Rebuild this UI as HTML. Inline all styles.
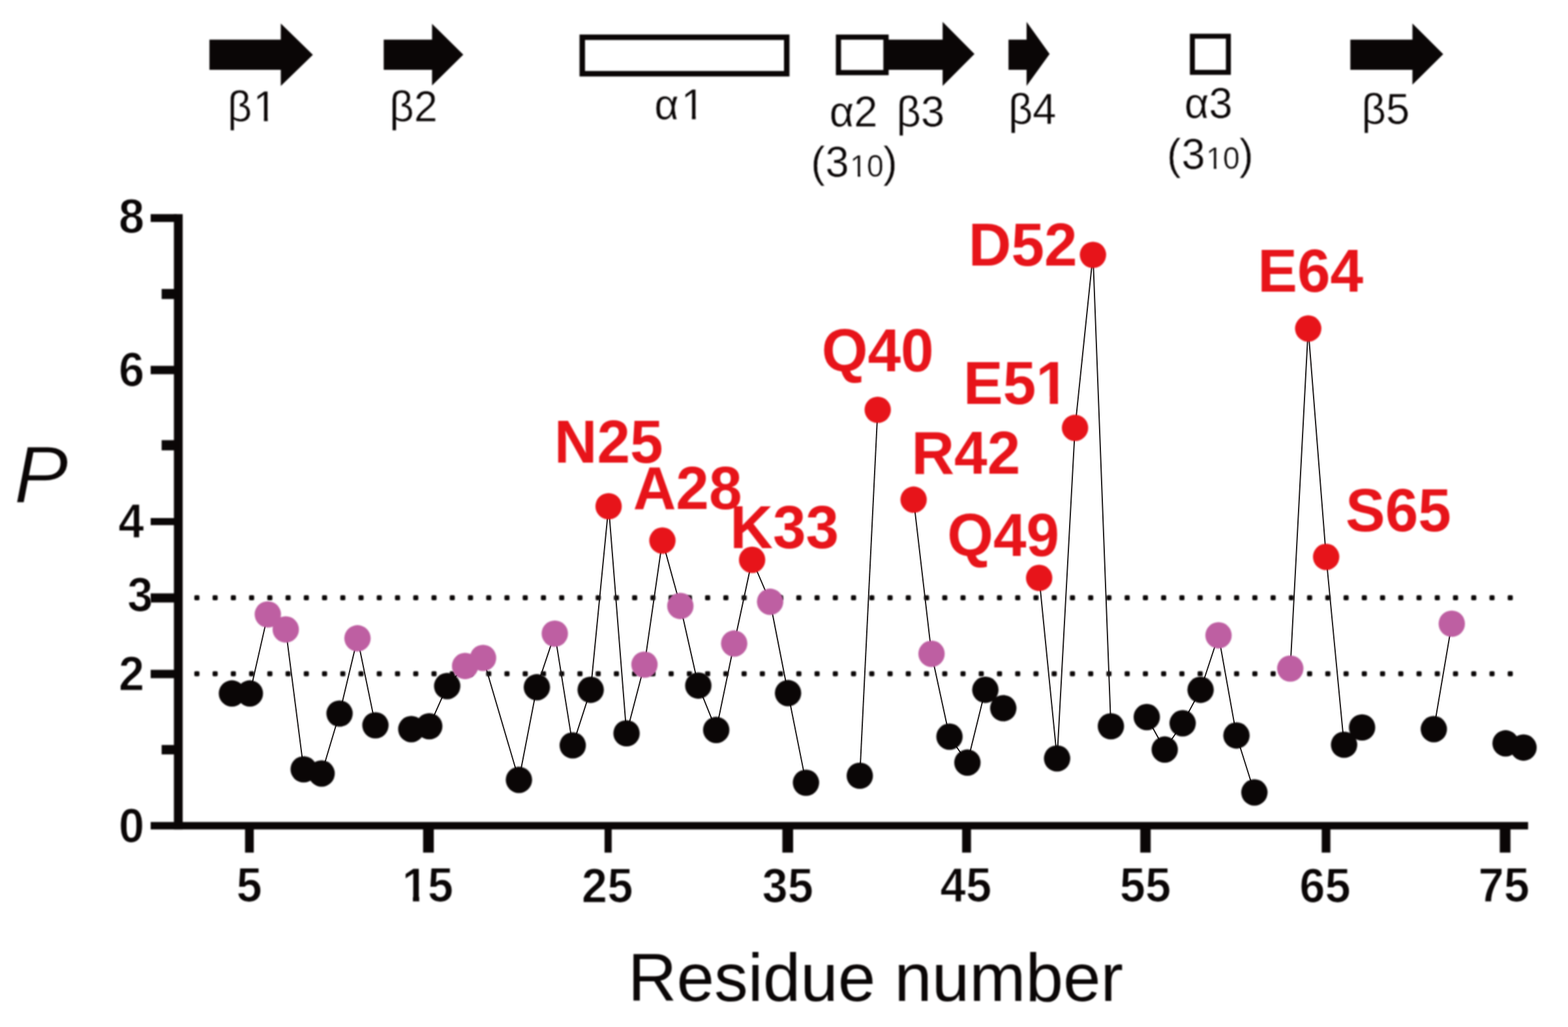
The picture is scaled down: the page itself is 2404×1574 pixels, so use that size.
<!DOCTYPE html>
<html lang="en"><head><meta charset="utf-8"><title>Residue plot</title>
<style>
html,body{margin:0;padding:0;background:#fff;}
body{width:2404px;height:1574px;overflow:hidden;}
svg{display:block;}
.soft{filter:blur(0.80px);}
text{font-family:"Liberation Sans",Arial,Helvetica,sans-serif;font-kerning:none;}
.tk{font-weight:bold;font-size:73.6px;fill:#0a0606;stroke:#fff;stroke-width:1.1px;stroke-linejoin:round;}
.ss{font-size:67.5px;fill:#0a0606;stroke:#fff;stroke-width:0.5px;}
.sm{font-size:48px;}
.rl{font-weight:bold;font-size:93.6px;fill:#e7141a;}
.ax{font-size:103.5px;fill:#0a0606;}
.yl{font-size:124.6px;font-style:italic;fill:#0a0606;stroke:#fff;stroke-width:1.4px;}
</style></head><body>
<svg width="2404" height="1574" viewBox="0 0 2404 1574" role="img" aria-label="P versus residue number">
<rect width="2404" height="1574" fill="#fff"/>
<defs>
<clipPath id="c_s_b1" clipPathUnits="userSpaceOnUse"><path clip-rule="evenodd" d="M-400 -400H1400V400H-400ZM44.27 -6.54H58.10V3.00H44.27ZM64.07 -6.54H77.37V3.00H64.07Z"/></clipPath>
<clipPath id="c_s_a1" clipPathUnits="userSpaceOnUse"><path clip-rule="evenodd" d="M-400 -400H1400V400H-400ZM45.97 -6.54H59.80V3.00H45.97ZM65.76 -6.54H79.07V3.00H65.76Z"/></clipPath>
<clipPath id="c_s_h2" clipPathUnits="userSpaceOnUse"><path clip-rule="evenodd" d="M-400 -400H1400V400H-400ZM64.17 -5.09H74.59V3.00H64.17ZM78.83 -5.09H88.87V3.00H78.83Z"/></clipPath>
<clipPath id="c_s_h3" clipPathUnits="userSpaceOnUse"><path clip-rule="evenodd" d="M-400 -400H1400V400H-400ZM64.17 -5.09H74.59V3.00H64.17ZM78.83 -5.09H88.87V3.00H78.83Z"/></clipPath>
<clipPath id="c_x15" clipPathUnits="userSpaceOnUse"><path clip-rule="evenodd" d="M-400 -400H1400V400H-400ZM2.64 -9.01H17.18V3.00H2.64ZM27.28 -9.01H40.88V3.00H27.28Z"/></clipPath>
<clipPath id="c_r_E51" clipPathUnits="userSpaceOnUse"><path clip-rule="evenodd" d="M-400 -400H1400V400H-400ZM118.38 -11.05H136.33V3.00H118.38ZM149.18 -11.05H165.94V3.00H149.18Z"/></clipPath>
</defs>
<g id="layer-under" class="soft">
<g id="ticklabels">
<text id="y8" class="tk" transform="translate(181.88 357.40) scale(0.960 1)">8</text>
<text id="y6" class="tk" transform="translate(181.88 591.90) scale(0.960 1)">6</text>
<text id="y4" class="tk" transform="translate(181.50 823.60) scale(0.960 1)">4</text>
<text id="y2" class="tk" transform="translate(182.00 1058.30) scale(0.960 1)">2</text>
<text id="y0" class="tk" transform="translate(182.00 1291.20) scale(0.960 1)">0</text>
<text id="y3" class="tk" transform="translate(195.22 936.65) scale(0.960 1)">3</text>
<text id="x5" class="tk" transform="translate(362.59 1382.46) scale(0.960 1)">5</text>
<text id="x15" class="tk" transform="translate(616.56 1382.46) scale(0.960 1)" clip-path="url(#c_x15)">15</text>
<text id="x25" class="tk" transform="translate(891.84 1382.95) scale(0.960 1)">25</text>
<text id="x35" class="tk" transform="translate(1168.38 1382.83) scale(0.960 1)">35</text>
<text id="x45" class="tk" transform="translate(1441.60 1382.46) scale(0.960 1)">45</text>
<text id="x55" class="tk" transform="translate(1716.81 1382.46) scale(0.960 1)">55</text>
<text id="x65" class="tk" transform="translate(1992.20 1382.95) scale(0.960 1)">65</text>
<text id="x75" class="tk" transform="translate(2266.58 1382.46) scale(0.960 1)">75</text>
</g>
<g id="sse" fill="#0a0606">
<path d="M321.1 60.8H430.5V36.0L479.7 84.0L430.5 131.8V107.1H321.1Z"/>
<path d="M588.3 60.8H662.4V36.5L710.3 83.8L662.4 131.1V107.1H588.3Z"/>
</g>
<g id="helices" fill="#fff" stroke="#0a0606">
<rect x="892.7" y="57.1" width="313.5" height="55.9" stroke-width="8.4"/>
<rect x="1285.5" y="56.9" width="73.0" height="54.4" stroke-width="7.9"/>
<rect x="1828.1" y="55.5" width="55.2" height="55.4" stroke-width="7.6"/>
</g>
<g id="sse2" fill="#0a0606">
<path d="M1354.6 60.8H1445.2V33.5L1494.0 82.7L1445.2 131.8V107.1H1354.6Z"/>
<path d="M1546.2 60.8H1573.9V33.5L1609.2 82.7L1573.9 131.8V107.1H1546.2Z"/>
<path d="M2070.3 60.8H2165.5V36.0L2212.7 82.9L2165.5 129.8V107.1H2070.3Z"/>
</g>
<g id="sse-labels">
<text id="s_b1" class="ss" transform="translate(348.75 186.00) scale(0.963 1)" clip-path="url(#c_s_b1)">β<tspan dx="2.3">1</tspan></text>
<text id="s_b2" class="ss" transform="translate(597.34 186.00) scale(0.963 1)">β2</text>
<text id="s_a1" class="ss" transform="translate(1003.25 183.30) scale(0.963 1)" clip-path="url(#c_s_a1)">α<tspan dx="3.8">1</tspan></text>
<text id="s_a2" class="ss" transform="translate(1271.66 193.60) scale(0.963 1)">α2</text>
<text id="s_b3" class="ss" transform="translate(1374.59 193.50) scale(0.963 1)">β3</text>
<text id="s_b4" class="ss" transform="translate(1545.94 189.60) scale(0.963 1)">β4</text>
<text id="s_a3" class="ss" transform="translate(1815.95 181.10) scale(0.963 1)">α3</text>
<text id="s_b5" class="ss" transform="translate(2087.54 189.90) scale(0.963 1)">β5</text>
<text id="s_h2" class="ss" transform="translate(1243.14 270.70) scale(0.963 1)" clip-path="url(#c_s_h2)">(<tspan dx="0.7">3</tspan><tspan class="sm" dx="1.8">10</tspan><tspan dx="-0.7">)</tspan></text>
<text id="s_h3" class="ss" transform="translate(1789.10 258.90) scale(0.963 1)" clip-path="url(#c_s_h3)">(<tspan dx="0.7">3</tspan><tspan class="sm" dx="1.8">10</tspan><tspan dx="-0.7">)</tspan></text>
</g>
<g id="thresholds" fill="#0a0606">
<rect x="297.95" y="912.20" width="7.8" height="7.8" rx="1.8"/>
<rect x="325.92" y="912.20" width="7.8" height="7.8" rx="1.8"/>
<rect x="353.88" y="912.20" width="7.8" height="7.8" rx="1.8"/>
<rect x="381.85" y="912.20" width="7.8" height="7.8" rx="1.8"/>
<rect x="409.82" y="912.20" width="7.8" height="7.8" rx="1.8"/>
<rect x="437.79" y="912.20" width="7.8" height="7.8" rx="1.8"/>
<rect x="465.75" y="912.20" width="7.8" height="7.8" rx="1.8"/>
<rect x="493.72" y="912.20" width="7.8" height="7.8" rx="1.8"/>
<rect x="521.69" y="912.20" width="7.8" height="7.8" rx="1.8"/>
<rect x="549.65" y="912.20" width="7.8" height="7.8" rx="1.8"/>
<rect x="577.62" y="912.20" width="7.8" height="7.8" rx="1.8"/>
<rect x="605.59" y="912.20" width="7.8" height="7.8" rx="1.8"/>
<rect x="633.55" y="912.20" width="7.8" height="7.8" rx="1.8"/>
<rect x="661.52" y="912.20" width="7.8" height="7.8" rx="1.8"/>
<rect x="689.49" y="912.20" width="7.8" height="7.8" rx="1.8"/>
<rect x="717.46" y="912.20" width="7.8" height="7.8" rx="1.8"/>
<rect x="745.42" y="912.20" width="7.8" height="7.8" rx="1.8"/>
<rect x="773.39" y="912.20" width="7.8" height="7.8" rx="1.8"/>
<rect x="801.36" y="912.20" width="7.8" height="7.8" rx="1.8"/>
<rect x="829.32" y="912.20" width="7.8" height="7.8" rx="1.8"/>
<rect x="857.29" y="912.20" width="7.8" height="7.8" rx="1.8"/>
<rect x="885.26" y="912.20" width="7.8" height="7.8" rx="1.8"/>
<rect x="913.22" y="912.20" width="7.8" height="7.8" rx="1.8"/>
<rect x="941.19" y="912.20" width="7.8" height="7.8" rx="1.8"/>
<rect x="969.16" y="912.20" width="7.8" height="7.8" rx="1.8"/>
<rect x="997.12" y="912.20" width="7.8" height="7.8" rx="1.8"/>
<rect x="1025.09" y="912.20" width="7.8" height="7.8" rx="1.8"/>
<rect x="1053.06" y="912.20" width="7.8" height="7.8" rx="1.8"/>
<rect x="1081.03" y="912.20" width="7.8" height="7.8" rx="1.8"/>
<rect x="1108.99" y="912.20" width="7.8" height="7.8" rx="1.8"/>
<rect x="1136.96" y="912.20" width="7.8" height="7.8" rx="1.8"/>
<rect x="1164.93" y="912.20" width="7.8" height="7.8" rx="1.8"/>
<rect x="1192.89" y="912.20" width="7.8" height="7.8" rx="1.8"/>
<rect x="1220.86" y="912.20" width="7.8" height="7.8" rx="1.8"/>
<rect x="1248.83" y="912.20" width="7.8" height="7.8" rx="1.8"/>
<rect x="1276.79" y="912.20" width="7.8" height="7.8" rx="1.8"/>
<rect x="1304.76" y="912.20" width="7.8" height="7.8" rx="1.8"/>
<rect x="1332.73" y="912.20" width="7.8" height="7.8" rx="1.8"/>
<rect x="1360.70" y="912.20" width="7.8" height="7.8" rx="1.8"/>
<rect x="1388.66" y="912.20" width="7.8" height="7.8" rx="1.8"/>
<rect x="1416.63" y="912.20" width="7.8" height="7.8" rx="1.8"/>
<rect x="1444.60" y="912.20" width="7.8" height="7.8" rx="1.8"/>
<rect x="1472.56" y="912.20" width="7.8" height="7.8" rx="1.8"/>
<rect x="1500.53" y="912.20" width="7.8" height="7.8" rx="1.8"/>
<rect x="1528.50" y="912.20" width="7.8" height="7.8" rx="1.8"/>
<rect x="1556.46" y="912.20" width="7.8" height="7.8" rx="1.8"/>
<rect x="1584.43" y="912.20" width="7.8" height="7.8" rx="1.8"/>
<rect x="1612.40" y="912.20" width="7.8" height="7.8" rx="1.8"/>
<rect x="1640.37" y="912.20" width="7.8" height="7.8" rx="1.8"/>
<rect x="1668.33" y="912.20" width="7.8" height="7.8" rx="1.8"/>
<rect x="1696.30" y="912.20" width="7.8" height="7.8" rx="1.8"/>
<rect x="1724.27" y="912.20" width="7.8" height="7.8" rx="1.8"/>
<rect x="1752.23" y="912.20" width="7.8" height="7.8" rx="1.8"/>
<rect x="1780.20" y="912.20" width="7.8" height="7.8" rx="1.8"/>
<rect x="1808.17" y="912.20" width="7.8" height="7.8" rx="1.8"/>
<rect x="1836.13" y="912.20" width="7.8" height="7.8" rx="1.8"/>
<rect x="1864.10" y="912.20" width="7.8" height="7.8" rx="1.8"/>
<rect x="1892.07" y="912.20" width="7.8" height="7.8" rx="1.8"/>
<rect x="1920.04" y="912.20" width="7.8" height="7.8" rx="1.8"/>
<rect x="1948.00" y="912.20" width="7.8" height="7.8" rx="1.8"/>
<rect x="1975.97" y="912.20" width="7.8" height="7.8" rx="1.8"/>
<rect x="2003.94" y="912.20" width="7.8" height="7.8" rx="1.8"/>
<rect x="2031.90" y="912.20" width="7.8" height="7.8" rx="1.8"/>
<rect x="2059.87" y="912.20" width="7.8" height="7.8" rx="1.8"/>
<rect x="2087.84" y="912.20" width="7.8" height="7.8" rx="1.8"/>
<rect x="2115.80" y="912.20" width="7.8" height="7.8" rx="1.8"/>
<rect x="2143.77" y="912.20" width="7.8" height="7.8" rx="1.8"/>
<rect x="2171.74" y="912.20" width="7.8" height="7.8" rx="1.8"/>
<rect x="2199.71" y="912.20" width="7.8" height="7.8" rx="1.8"/>
<rect x="2227.67" y="912.20" width="7.8" height="7.8" rx="1.8"/>
<rect x="2255.64" y="912.20" width="7.8" height="7.8" rx="1.8"/>
<rect x="2283.61" y="912.20" width="7.8" height="7.8" rx="1.8"/>
<rect x="2311.57" y="912.20" width="7.8" height="7.8" rx="1.8"/>
<rect x="297.95" y="1028.80" width="7.8" height="7.8" rx="1.8"/>
<rect x="325.92" y="1028.80" width="7.8" height="7.8" rx="1.8"/>
<rect x="353.88" y="1028.80" width="7.8" height="7.8" rx="1.8"/>
<rect x="381.85" y="1028.80" width="7.8" height="7.8" rx="1.8"/>
<rect x="409.82" y="1028.80" width="7.8" height="7.8" rx="1.8"/>
<rect x="437.79" y="1028.80" width="7.8" height="7.8" rx="1.8"/>
<rect x="465.75" y="1028.80" width="7.8" height="7.8" rx="1.8"/>
<rect x="493.72" y="1028.80" width="7.8" height="7.8" rx="1.8"/>
<rect x="521.69" y="1028.80" width="7.8" height="7.8" rx="1.8"/>
<rect x="549.65" y="1028.80" width="7.8" height="7.8" rx="1.8"/>
<rect x="577.62" y="1028.80" width="7.8" height="7.8" rx="1.8"/>
<rect x="605.59" y="1028.80" width="7.8" height="7.8" rx="1.8"/>
<rect x="633.55" y="1028.80" width="7.8" height="7.8" rx="1.8"/>
<rect x="661.52" y="1028.80" width="7.8" height="7.8" rx="1.8"/>
<rect x="689.49" y="1028.80" width="7.8" height="7.8" rx="1.8"/>
<rect x="717.46" y="1028.80" width="7.8" height="7.8" rx="1.8"/>
<rect x="745.42" y="1028.80" width="7.8" height="7.8" rx="1.8"/>
<rect x="773.39" y="1028.80" width="7.8" height="7.8" rx="1.8"/>
<rect x="801.36" y="1028.80" width="7.8" height="7.8" rx="1.8"/>
<rect x="829.32" y="1028.80" width="7.8" height="7.8" rx="1.8"/>
<rect x="857.29" y="1028.80" width="7.8" height="7.8" rx="1.8"/>
<rect x="885.26" y="1028.80" width="7.8" height="7.8" rx="1.8"/>
<rect x="913.22" y="1028.80" width="7.8" height="7.8" rx="1.8"/>
<rect x="941.19" y="1028.80" width="7.8" height="7.8" rx="1.8"/>
<rect x="969.16" y="1028.80" width="7.8" height="7.8" rx="1.8"/>
<rect x="997.12" y="1028.80" width="7.8" height="7.8" rx="1.8"/>
<rect x="1025.09" y="1028.80" width="7.8" height="7.8" rx="1.8"/>
<rect x="1053.06" y="1028.80" width="7.8" height="7.8" rx="1.8"/>
<rect x="1081.03" y="1028.80" width="7.8" height="7.8" rx="1.8"/>
<rect x="1108.99" y="1028.80" width="7.8" height="7.8" rx="1.8"/>
<rect x="1136.96" y="1028.80" width="7.8" height="7.8" rx="1.8"/>
<rect x="1164.93" y="1028.80" width="7.8" height="7.8" rx="1.8"/>
<rect x="1192.89" y="1028.80" width="7.8" height="7.8" rx="1.8"/>
<rect x="1220.86" y="1028.80" width="7.8" height="7.8" rx="1.8"/>
<rect x="1248.83" y="1028.80" width="7.8" height="7.8" rx="1.8"/>
<rect x="1276.79" y="1028.80" width="7.8" height="7.8" rx="1.8"/>
<rect x="1304.76" y="1028.80" width="7.8" height="7.8" rx="1.8"/>
<rect x="1332.73" y="1028.80" width="7.8" height="7.8" rx="1.8"/>
<rect x="1360.70" y="1028.80" width="7.8" height="7.8" rx="1.8"/>
<rect x="1388.66" y="1028.80" width="7.8" height="7.8" rx="1.8"/>
<rect x="1416.63" y="1028.80" width="7.8" height="7.8" rx="1.8"/>
<rect x="1444.60" y="1028.80" width="7.8" height="7.8" rx="1.8"/>
<rect x="1472.56" y="1028.80" width="7.8" height="7.8" rx="1.8"/>
<rect x="1500.53" y="1028.80" width="7.8" height="7.8" rx="1.8"/>
<rect x="1528.50" y="1028.80" width="7.8" height="7.8" rx="1.8"/>
<rect x="1556.46" y="1028.80" width="7.8" height="7.8" rx="1.8"/>
<rect x="1584.43" y="1028.80" width="7.8" height="7.8" rx="1.8"/>
<rect x="1612.40" y="1028.80" width="7.8" height="7.8" rx="1.8"/>
<rect x="1640.37" y="1028.80" width="7.8" height="7.8" rx="1.8"/>
<rect x="1668.33" y="1028.80" width="7.8" height="7.8" rx="1.8"/>
<rect x="1696.30" y="1028.80" width="7.8" height="7.8" rx="1.8"/>
<rect x="1724.27" y="1028.80" width="7.8" height="7.8" rx="1.8"/>
<rect x="1752.23" y="1028.80" width="7.8" height="7.8" rx="1.8"/>
<rect x="1780.20" y="1028.80" width="7.8" height="7.8" rx="1.8"/>
<rect x="1808.17" y="1028.80" width="7.8" height="7.8" rx="1.8"/>
<rect x="1836.13" y="1028.80" width="7.8" height="7.8" rx="1.8"/>
<rect x="1864.10" y="1028.80" width="7.8" height="7.8" rx="1.8"/>
<rect x="1892.07" y="1028.80" width="7.8" height="7.8" rx="1.8"/>
<rect x="1920.04" y="1028.80" width="7.8" height="7.8" rx="1.8"/>
<rect x="1948.00" y="1028.80" width="7.8" height="7.8" rx="1.8"/>
<rect x="1975.97" y="1028.80" width="7.8" height="7.8" rx="1.8"/>
<rect x="2003.94" y="1028.80" width="7.8" height="7.8" rx="1.8"/>
<rect x="2031.90" y="1028.80" width="7.8" height="7.8" rx="1.8"/>
<rect x="2059.87" y="1028.80" width="7.8" height="7.8" rx="1.8"/>
<rect x="2087.84" y="1028.80" width="7.8" height="7.8" rx="1.8"/>
<rect x="2115.80" y="1028.80" width="7.8" height="7.8" rx="1.8"/>
<rect x="2143.77" y="1028.80" width="7.8" height="7.8" rx="1.8"/>
<rect x="2171.74" y="1028.80" width="7.8" height="7.8" rx="1.8"/>
<rect x="2199.71" y="1028.80" width="7.8" height="7.8" rx="1.8"/>
<rect x="2227.67" y="1028.80" width="7.8" height="7.8" rx="1.8"/>
<rect x="2255.64" y="1028.80" width="7.8" height="7.8" rx="1.8"/>
<rect x="2283.61" y="1028.80" width="7.8" height="7.8" rx="1.8"/>
<rect x="2311.57" y="1028.80" width="7.8" height="7.8" rx="1.8"/>
</g>
</g>
<g id="lines" stroke="#1c1818" stroke-width="1.9" fill="none" stroke-linejoin="round">
<path d="M355.6 1062.8 L383.1 1062.8 L410.6 941.6 L438.1 964.7 L465.6 1179.1 L493.1 1185.5 L520.6 1093.6 L548.1 978.3 L575.6 1111.6"/>
<path d="M630.6 1117.5 L658.1 1113.1 L685.6 1051.5 L713.1 1020.7 L740.6 1008.4 L795.6 1195.3 L823.1 1053.3 L850.6 971.1 L878.1 1142.4 L905.6 1057.2 L933.1 775.9 L960.6 1123.9 L988.1 1018.6 L1015.6 828.5 L1043.1 928.7 L1070.6 1050.7 L1098.1 1118.8 L1125.6 986.3 L1153.1 858.0 L1180.7 922.3 L1208.2 1062.3 L1235.7 1199.6"/>
<path d="M1318.2 1188.9 L1345.7 628.1"/>
<path d="M1400.7 765.8 L1428.2 1002.0 L1455.7 1129.0 L1483.2 1168.8 L1510.7 1057.2 L1538.2 1085.4"/>
<path d="M1593.2 885.7 L1620.7 1162.4 L1648.2 655.8 L1675.7 390.6 L1703.2 1113.1"/>
<path d="M1758.2 1099.0 L1785.7 1148.8 L1813.2 1108.5 L1840.7 1057.2 L1868.2 973.7 L1895.7 1127.2 L1923.2 1214.5"/>
<path d="M1978.2 1024.6 L2005.7 503.5 L2033.2 853.5 L2060.7 1141.4 L2088.3 1114.9"/>
<path d="M2198.3 1117.5 L2225.8 955.9"/>
<path d="M2308.3 1139.3 L2335.8 1145.7"/>
</g>
<g id="layer-over" class="soft">
<g id="pts-black" fill="#0a0606">
<circle cx="355.6" cy="1062.8" r="20.2"/>
<circle cx="383.1" cy="1062.8" r="20.2"/>
<circle cx="465.6" cy="1179.1" r="20.2"/>
<circle cx="493.1" cy="1185.5" r="20.2"/>
<circle cx="520.6" cy="1093.6" r="20.2"/>
<circle cx="575.6" cy="1111.6" r="20.2"/>
<circle cx="630.6" cy="1117.5" r="20.2"/>
<circle cx="658.1" cy="1113.1" r="20.2"/>
<circle cx="685.6" cy="1051.5" r="20.2"/>
<circle cx="795.6" cy="1195.3" r="20.2"/>
<circle cx="823.1" cy="1053.3" r="20.2"/>
<circle cx="878.1" cy="1142.4" r="20.2"/>
<circle cx="905.6" cy="1057.2" r="20.2"/>
<circle cx="960.6" cy="1123.9" r="20.2"/>
<circle cx="1070.6" cy="1050.7" r="20.2"/>
<circle cx="1098.1" cy="1118.8" r="20.2"/>
<circle cx="1208.2" cy="1062.3" r="20.2"/>
<circle cx="1235.7" cy="1199.6" r="20.2"/>
<circle cx="1318.2" cy="1188.9" r="20.2"/>
<circle cx="1455.7" cy="1129.0" r="20.2"/>
<circle cx="1483.2" cy="1168.8" r="20.2"/>
<circle cx="1510.7" cy="1057.2" r="20.2"/>
<circle cx="1538.2" cy="1085.4" r="20.2"/>
<circle cx="1620.7" cy="1162.4" r="20.2"/>
<circle cx="1703.2" cy="1113.1" r="20.2"/>
<circle cx="1758.2" cy="1099.0" r="20.2"/>
<circle cx="1785.7" cy="1148.8" r="20.2"/>
<circle cx="1813.2" cy="1108.5" r="20.2"/>
<circle cx="1840.7" cy="1057.2" r="20.2"/>
<circle cx="1895.7" cy="1127.2" r="20.2"/>
<circle cx="1923.2" cy="1214.5" r="20.2"/>
<circle cx="2060.7" cy="1141.4" r="20.2"/>
<circle cx="2088.3" cy="1114.9" r="20.2"/>
<circle cx="2198.3" cy="1117.5" r="20.2"/>
<circle cx="2308.3" cy="1139.3" r="20.2"/>
<circle cx="2335.8" cy="1145.7" r="20.2"/>
</g>
<g id="pts-magenta" fill="#be5fa2">
<circle cx="410.6" cy="941.6" r="20.2"/>
<circle cx="438.1" cy="964.7" r="20.2"/>
<circle cx="548.1" cy="978.3" r="20.2"/>
<circle cx="713.1" cy="1020.7" r="20.2"/>
<circle cx="740.6" cy="1008.4" r="20.2"/>
<circle cx="850.6" cy="971.1" r="20.2"/>
<circle cx="988.1" cy="1018.6" r="20.2"/>
<circle cx="1043.1" cy="928.7" r="20.2"/>
<circle cx="1125.6" cy="986.3" r="20.2"/>
<circle cx="1180.7" cy="922.3" r="20.2"/>
<circle cx="1428.2" cy="1002.0" r="20.2"/>
<circle cx="1868.2" cy="973.7" r="20.2"/>
<circle cx="1978.2" cy="1024.6" r="20.2"/>
<circle cx="2225.8" cy="955.9" r="20.2"/>
</g>
<g id="pts-red" fill="#e7141a">
<circle cx="933.1" cy="775.9" r="20.2"/>
<circle cx="1015.6" cy="828.5" r="20.2"/>
<circle cx="1153.1" cy="858.0" r="20.2"/>
<circle cx="1345.7" cy="628.1" r="20.2"/>
<circle cx="1400.7" cy="765.8" r="20.2"/>
<circle cx="1593.2" cy="885.7" r="20.2"/>
<circle cx="1648.2" cy="655.8" r="20.2"/>
<circle cx="1675.7" cy="390.6" r="20.2"/>
<circle cx="2005.7" cy="503.5" r="20.2"/>
<circle cx="2033.2" cy="853.5" r="20.2"/>
</g>
<g id="axes" fill="#0a0606">
<rect x="266.6" y="328.2" width="13.5" height="943.0"/>
<rect x="231.0" y="1259.8" width="2111.8" height="11.4"/>
<rect x="231.0" y="328.2" width="40" height="12.0"/>
<rect x="231.0" y="560.7" width="40" height="12.8"/>
<rect x="231.0" y="794.0" width="40" height="10.8"/>
<rect x="231.0" y="909.4" width="40" height="14.0"/>
<rect x="231.0" y="1026.6" width="40" height="12.8"/>
<rect x="247.8" y="442.9" width="24" height="15.4"/>
<rect x="247.8" y="674.6" width="24" height="15.6"/>
<rect x="247.8" y="1141.8" width="24" height="14.4"/>
<rect x="375.7" y="1265" width="13.4" height="41.7"/>
<rect x="648.7" y="1265" width="16.4" height="41.7"/>
<rect x="926.9" y="1265" width="10.9" height="41.7"/>
<rect x="1199.5" y="1265" width="16.5" height="41.7"/>
<rect x="1475.1" y="1265" width="13.6" height="41.7"/>
<rect x="1748.2" y="1265" width="16.0" height="41.7"/>
<rect x="2026.4" y="1265" width="13.3" height="41.7"/>
<rect x="2299.4" y="1265" width="16.4" height="41.7"/>
</g>
<g id="peak-labels">
<text id="r_N25" class="rl" transform="translate(849.71 709.16) scale(0.972 1)">N25</text>
<text id="r_A28" class="rl" transform="translate(970.64 780.24) scale(0.972 1)">A28</text>
<text id="r_K33" class="rl" transform="translate(1119.30 840.21) scale(0.972 1)">K33</text>
<text id="r_Q40" class="rl" transform="translate(1259.63 568.90) scale(0.972 1)">Q40</text>
<text id="r_R42" class="rl" transform="translate(1397.39 726.38) scale(0.972 1)">R42</text>
<text id="r_Q49" class="rl" transform="translate(1452.26 852.40) scale(0.972 1)">Q49</text>
<text id="r_E51" class="rl" transform="translate(1477.05 618.72) scale(0.972 1)" clip-path="url(#c_r_E51)">E51</text>
<text id="r_D52" class="rl" transform="translate(1484.76 406.71) scale(0.972 1)">D52</text>
<text id="r_E64" class="rl" transform="translate(1928.34 447.24) scale(0.972 1)">E64</text>
<text id="r_S65" class="rl" transform="translate(2063.08 813.88) scale(0.972 1)">S65</text>
</g>
<text id="xt" class="ax" x="962.66" y="1533.90">Residue number</text>
<text id="yt" class="yl" x="21.38" y="770.39">P</text>
</g>
</svg>
</body></html>
